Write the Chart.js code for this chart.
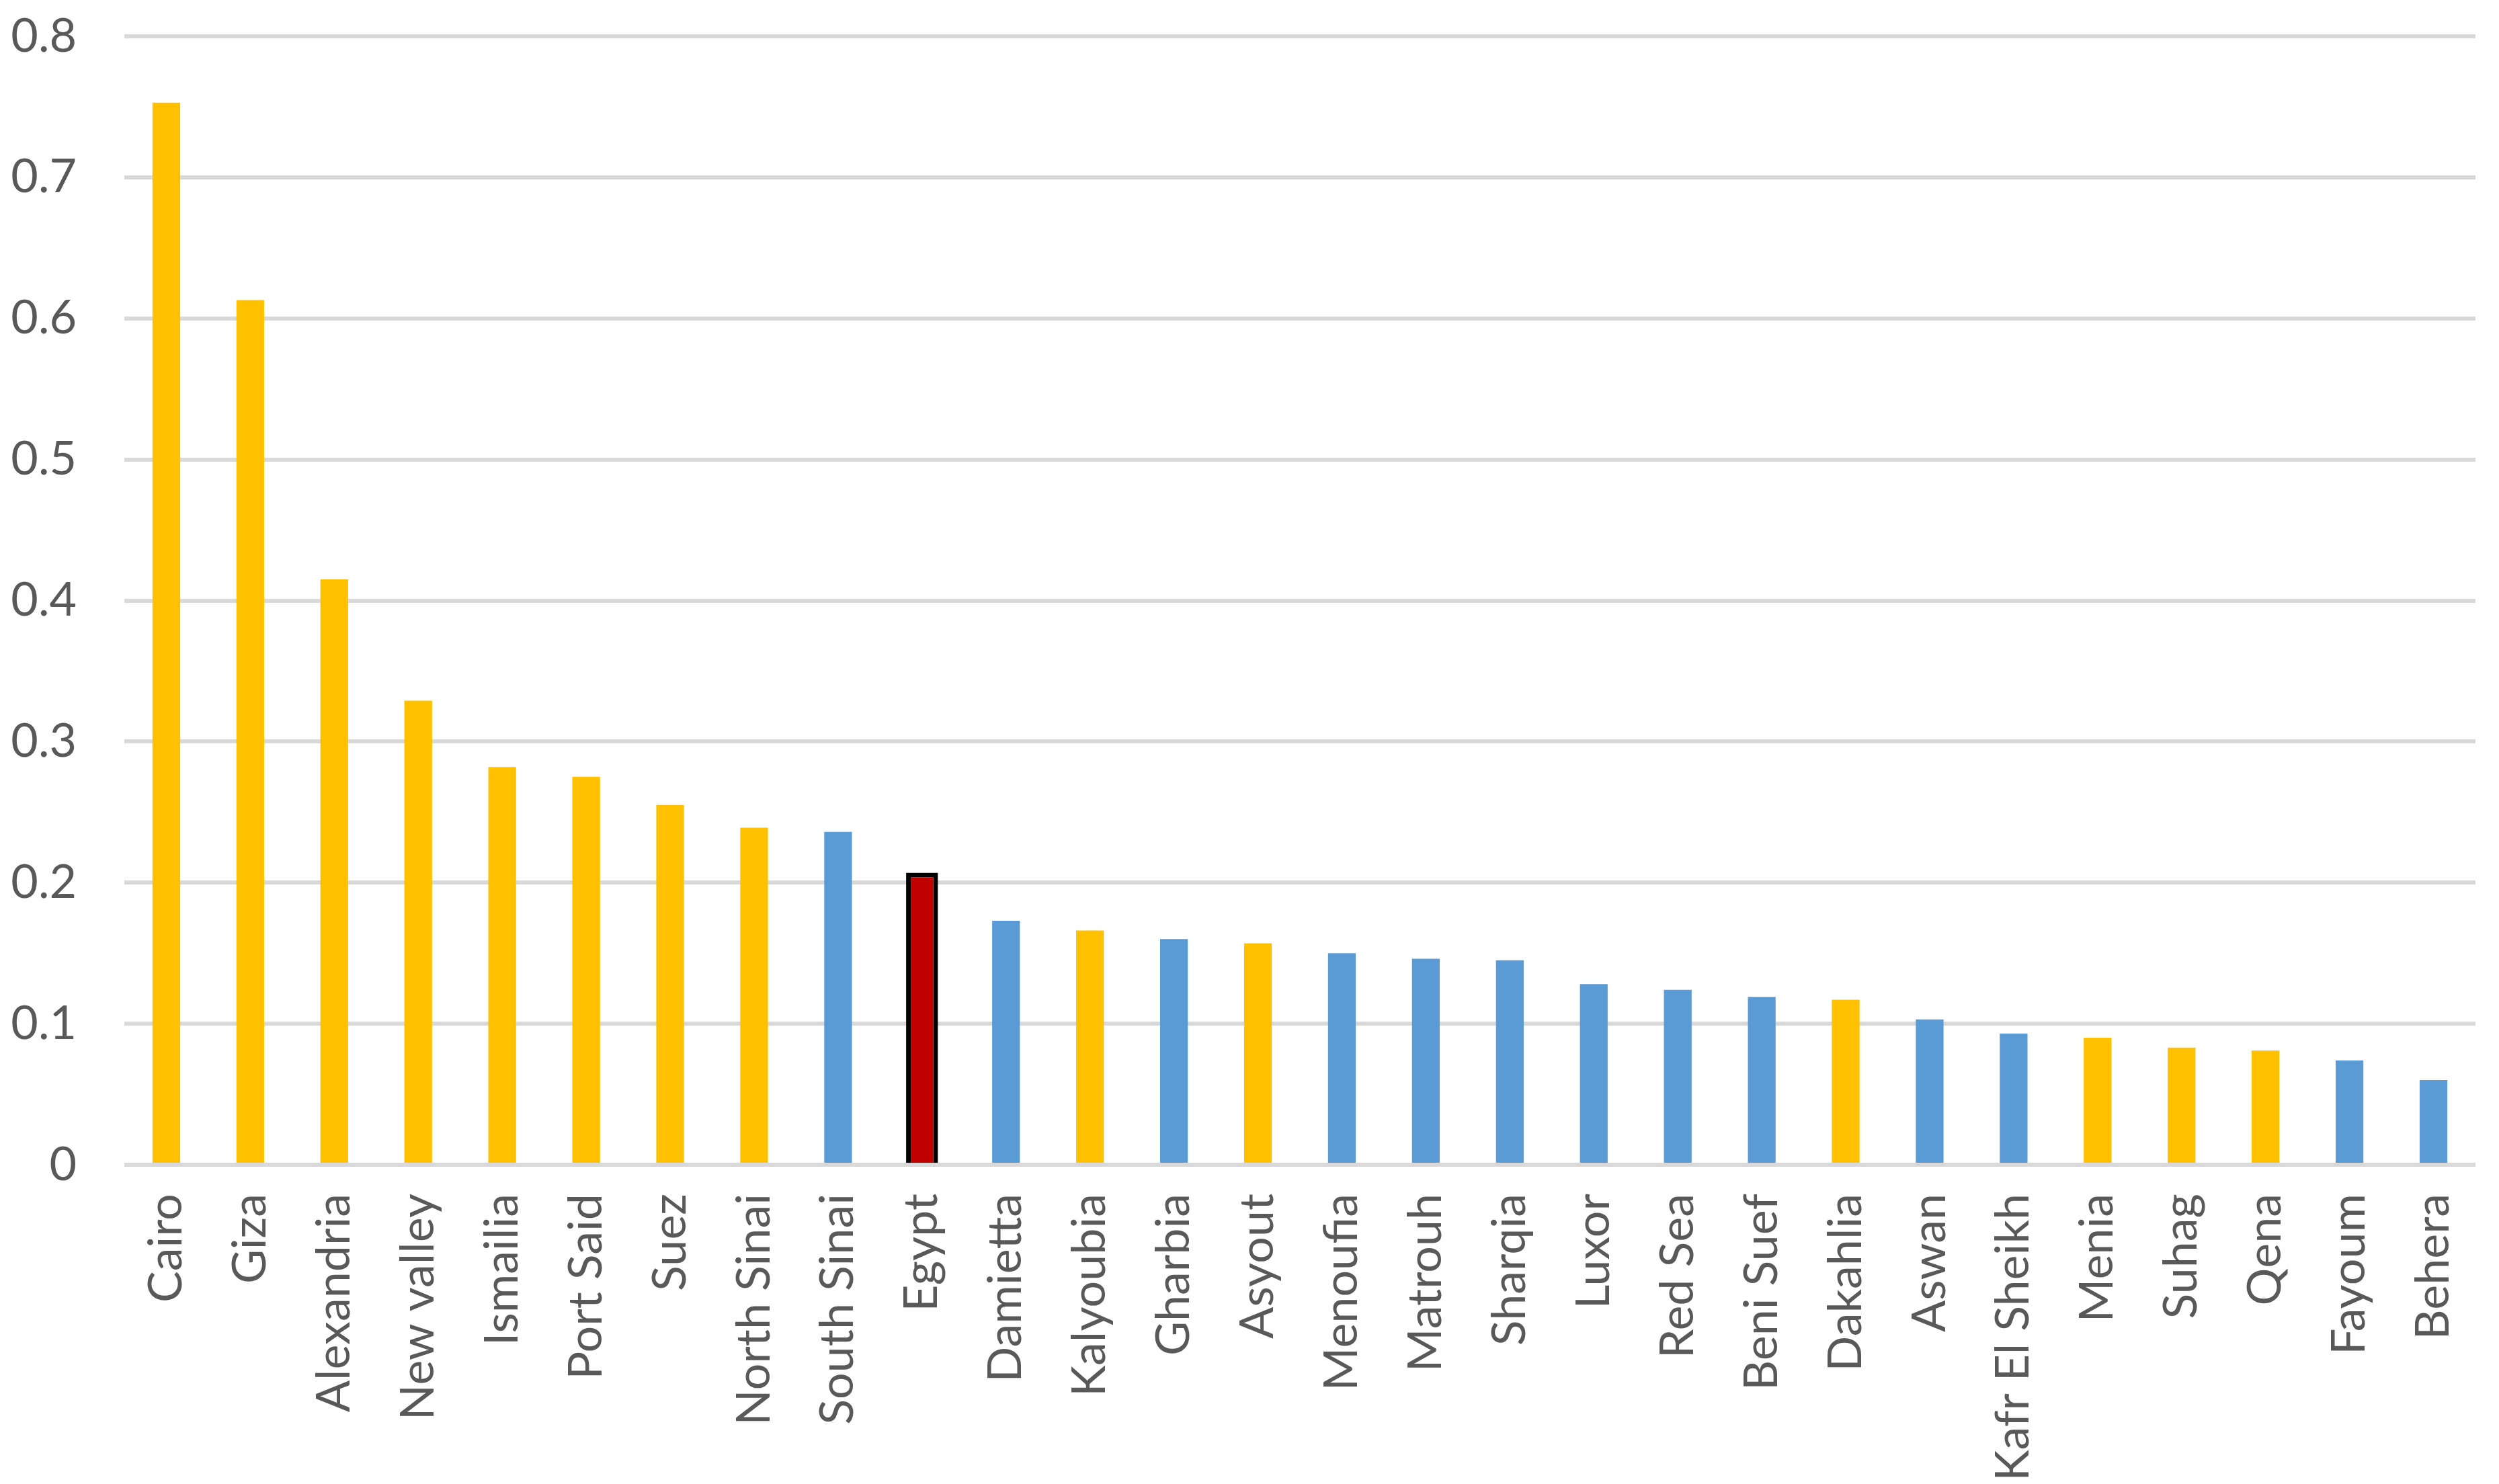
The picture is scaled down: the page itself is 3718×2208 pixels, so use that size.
<!DOCTYPE html>
<html>
<head>
<meta charset="utf-8">
<script src="https://cdn.jsdelivr.net/npm/chart.js@4/dist/chart.umd.min.js"></script>
<style>
    html, body { margin: 0; padding: 0; background: #ffffff; }
    canvas { display: block; }
</style>
</head>
<body>
<canvas id="chart" width="3718" height="2208"></canvas>
<script>
// Governorates, sorted by value as in the source chart.
const categories = [
    'Cairo', 'Giza', 'Alexandria', 'New valley', 'Ismailia', 'Port Said', 'Suez',
    'North Sinai', 'South Sinai', 'Egypt', 'Damietta', 'Kalyoubia', 'Gharbia',
    'Asyout', 'Menoufia', 'Matrouh', 'Sharqia', 'Luxor', 'Red Sea', 'Beni Suef',
    'Dakahlia', 'Aswan', 'Kafr El Sheikh', 'Menia', 'Suhag', 'Qena', 'Fayoum', 'Behera',
];

const values = [
    0.753, 0.613, 0.415, 0.329, 0.282, 0.275, 0.255,
    0.239, 0.236, 0.207, 0.173, 0.166, 0.160,
    0.157, 0.150, 0.146, 0.145, 0.128, 0.124, 0.119,
    0.117, 0.103, 0.093, 0.090, 0.083, 0.081, 0.074, 0.060,
];

// 'a' = yellow group, 'b' = blue group, 'national' = the Egypt total bar
const groups = [
    'a', 'a', 'a', 'a', 'a', 'a', 'a',
    'a', 'b', 'national', 'b', 'a', 'b',
    'a', 'b', 'b', 'b', 'b', 'b', 'b',
    'a', 'b', 'b', 'a', 'a', 'a', 'b', 'b',
];

const yTickLabels = ['0', '0.1', '0.2', '0.3', '0.4', '0.5', '0.6', '0.7', '0.8'];

const GROUP_COLORS = { a: '#FFC000', b: '#5B9BD5', national: '#C00000' };
const COLOR_GRID   = '#D9D9D9';
const COLOR_TEXT   = '#595959';
const FONT         = { family: 'Lato, "Open Sans", sans-serif', size: 70 };

const PLOT_LEFT   = 185;
const PLOT_BOTTOM = 1733;
const CANVAS_H    = 2208;

const provinceData = values.map((v, i) => groups[i] === 'national' ? null : v);
const nationalData = values.map((v, i) => groups[i] === 'national' ? v : null);

// Keeps the plot area where the source has it: no extra room for label overhang.
function noOverhang(scale) {
    scale.paddingTop    = 0;
    scale.paddingBottom = 0;
    scale.paddingLeft   = 0;
    scale.paddingRight  = 0;
}

new Chart(document.getElementById('chart'), {
    type: 'bar',
    data: {
        labels: categories,
        datasets: [
            {
                data:               provinceData,
                backgroundColor:    groups.map(g => GROUP_COLORS[g]),
                borderWidth:        0,
                grouped:            false,
                barPercentage:      0.33,
                categoryPercentage: 1,
            },
            {
                data:               nationalData,
                backgroundColor:    GROUP_COLORS.national,
                borderColor:        '#000000',
                borderWidth:        7,
                grouped:            false,
                barPercentage:      0.38,
                categoryPercentage: 1,
            },
        ],
    },
    options: {
        responsive: false,
        animation:  false,
        devicePixelRatio: 1,
        layout: { padding: { top: 54, right: 35, left: 0, bottom: 0 } },
        plugins: {
            legend:  { display: false },
            tooltip: { enabled: false },
        },
        scales: {
            x: {
                grid:   { display: false },
                border: { display: false },
                ticks: {
                    color:       COLOR_TEXT,
                    font:        FONT,
                    minRotation: 90,
                    maxRotation: 90,
                    padding:     35,
                    autoSkip:    false,
                },
                afterFit: scale => {
                    scale.height = CANVAS_H - PLOT_BOTTOM;
                    noOverhang(scale);
                },
            },
            y: {
                min: 0,
                max: 0.8,
                grid:   { color: COLOR_GRID, lineWidth: 6, drawTicks: false },
                border: { display: false },
                ticks: {
                    stepSize: 0.1,
                    color:    COLOR_TEXT,
                    font:     FONT,
                    padding:  71,
                    callback: (v, i) => yTickLabels[i],
                },
                afterFit: scale => {
                    scale.width = PLOT_LEFT;
                    noOverhang(scale);
                },
            },
        },
    },
});
</script>
</body>
</html>
